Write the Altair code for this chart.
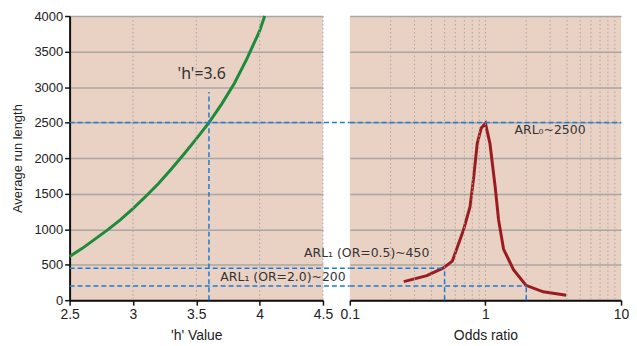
import altair as alt
import pandas as pd

# ---- data ----
h_values = [2.5, 2.6, 2.7, 2.8, 2.9, 3.0, 3.1, 3.2, 3.3, 3.4, 3.5, 3.6, 3.7, 3.8, 3.9, 4.0, 4.04]
arl_by_h = [615, 730, 860, 990, 1130, 1290, 1460, 1640, 1840, 2050, 2270, 2500, 2760, 3050, 3400, 3790, 4000]

odds_ratio = [0.25, 0.37, 0.49, 0.57, 0.69, 0.77, 0.82, 0.87, 0.93, 1.0, 1.08, 1.18, 1.25, 1.36, 1.61, 1.99, 2.67, 3.95]
arl_by_or = [262, 346, 455, 550, 990, 1316, 1736, 2204, 2420, 2490, 2204, 1596, 1130, 720, 430, 210, 118, 70]

h_ticks = [2.5, 3, 3.5, 4, 4.5]
h_grid = [3, 3.5, 4, 4.5]
or_ticks = [0.1, 1, 10]
or_grid = [0.2, 0.3, 0.4, 0.5, 0.6, 0.7, 0.8, 0.9, 1, 2, 3, 4, 5, 6, 7, 8, 9]
y_ticks = [0, 500, 1000, 1500, 2000, 2500, 3000, 3500, 4000]

h_choice = 3.6
h_line_top = 2930
arl_levels = [2500, 450, 200]
or_marks = [0.5, 2.0]
or_mark_arl = [450, 200]

left_labels = ["'h'=3.6", "ARL\u2081 (OR=2.0)~200"]
left_label_h = [3.543, 3.69]
left_label_y = [3190, 330]
right_labels = ["ARL\u2080~2500", "ARL\u2081 (OR=0.5)~450"]
right_label_or = [1.64, 0.1]
right_label_y = [2390, 670]

# ---- style ----
AXF = "Liberation Sans, Arial, sans-serif"
SANS = "Noto Sans, DejaVu Sans, sans-serif"
ANN = "DejaVu Sans, sans-serif"
FILL = "#E9D1C4"
GREEN = "#1C8C3C"
RED = "#9A1C20"
BLUE = "#1F7BCF"
GRID = "#A9A6A4"
W1, W2, H, GAP = 255, 273, 286, 27

xh = alt.Scale(domain=[2.5, 4.5], nice=False, zero=False)
xo = alt.Scale(type="log", domain=[0.1, 10], nice=False)
ya = alt.Scale(domain=[0, 4000], nice=False)

common_axis = dict(domainColor="#111", domainWidth=2, tickColor="#111", tickSize=5, tickWidth=1.5)

XH = alt.X("h:Q", scale=xh, title="'h' Value", axis=alt.Axis(
    values=h_ticks, format="~g", grid=False, labelFontSize=14, titleFontSize=14,
    labelPadding=2, titlePadding=8, labelFlush=False, **common_axis))
YL = alt.Y("arl:Q", scale=ya, title="Average run length", axis=alt.Axis(
    values=y_ticks, format="d", grid=True, gridColor=GRID, gridWidth=1.5,
    labelFontSize=13, titleFontSize=13, labelPadding=2, titlePadding=9, **common_axis))
XO = alt.X("or:Q", scale=xo, title="Odds ratio", axis=alt.Axis(
    values=or_ticks, format="~g", grid=False, labelFontSize=14, titleFontSize=14,
    labelPadding=2, titlePadding=8, labelFlush=False, **common_axis))
YR = alt.Y("arl:Q", scale=ya, title=None, axis=alt.Axis(
    values=y_ticks, grid=True, gridColor=GRID, gridWidth=1.5,
    labels=False, ticks=False, domain=False))

dash = dict(color=BLUE, strokeDash=[5, 3], strokeWidth=1.5)

df_h = pd.DataFrame({"h": h_values, "arl": arl_by_h})
df_or = pd.DataFrame({"or": odds_ratio, "arl": arl_by_or})

# ---------- left panel ----------
l_line = alt.Chart(df_h).mark_line(color=GREEN, strokeWidth=3).encode(x=XH, y=YL)

l_grid = alt.Chart(pd.DataFrame({"h": h_grid})).mark_rule(
    color=GRID, strokeDash=[1.5, 2.5], strokeWidth=1
).encode(x=XH)

l_hrules = alt.Chart(pd.DataFrame({"h": [2.5] * 3, "arl": arl_levels})).mark_rule(**dash).encode(
    x=XH, x2=alt.value(W1 + GAP), y=YL)

l_vrule = alt.Chart(pd.DataFrame({"h": [h_choice], "arl": [0], "arl2": [h_line_top]})).mark_rule(
    **dash).encode(x=XH, y=YL, y2="arl2:Q")

df_lt = pd.DataFrame({"h": left_label_h, "arl": left_label_y, "t": left_labels})
l_text1 = alt.Chart(df_lt.iloc[:1]).mark_text(
    font=SANS, fontSize=16, color="#333", align="center", baseline="middle"
).encode(x=XH, y=YL, text="t:N")
l_text2 = alt.Chart(df_lt.iloc[1:]).mark_text(
    font=ANN, fontSize=12.5, color="#333", align="left", baseline="middle"
).encode(x=XH, y=YL, text="t:N")

left = alt.layer(l_line, l_grid, l_hrules, l_vrule, l_text1, l_text2).properties(width=W1, height=H)

# ---------- right panel ----------
r_line = alt.Chart(df_or).mark_line(color=RED, strokeWidth=3).encode(x=XO, y=YR)

r_grid = alt.Chart(pd.DataFrame({"or": or_grid})).mark_rule(
    color=GRID, strokeDash=[1.5, 2.5], strokeWidth=1
).encode(x=XO)

r_hrule_top = alt.Chart(pd.DataFrame({"or": [0.1], "or2": [10], "arl": [arl_levels[0]]})).mark_rule(
    **dash).encode(x=XO, x2="or2:Q", y=YR)

r_hrules = alt.Chart(pd.DataFrame({"or": [0.1, 0.1], "or2": or_marks, "arl": or_mark_arl})).mark_rule(
    **dash).encode(x=XO, x2="or2:Q", y=YR)

r_vrules = alt.Chart(pd.DataFrame({"or": or_marks, "arl": [0, 0], "arl2": or_mark_arl})).mark_rule(
    **dash).encode(x=XO, y=YR, y2="arl2:Q")

df_rt = pd.DataFrame({"or": right_label_or, "arl": right_label_y, "t": right_labels})
r_text1 = alt.Chart(df_rt.iloc[:1]).mark_text(
    font=ANN, fontSize=12.5, color="#333", align="left", baseline="middle"
).encode(x=XO, y=YR, text="t:N")
r_text2 = alt.Chart(df_rt.iloc[1:]).mark_text(
    font=ANN, fontSize=12.5, color="#333", align="left", baseline="middle", dx=-46
).encode(x=XO, y=YR, text="t:N")

right = alt.layer(r_line, r_grid, r_hrule_top, r_hrules, r_vrules, r_text1, r_text2).properties(
    width=W2, height=H)

chart = alt.hconcat(left, right, spacing=GAP, bounds="flush").properties(
    padding={"left": 4, "top": 1, "right": 0, "bottom": 0},
    background="white",
).configure_view(
    fill=FILL, stroke=None
).configure_axis(
    labelFont=AXF, titleFont=AXF, labelColor="#222", titleColor="#222",
    titleFontWeight="normal",
)

chart.save("out.html", embed_options={"renderer": "svg", "actions": False})
